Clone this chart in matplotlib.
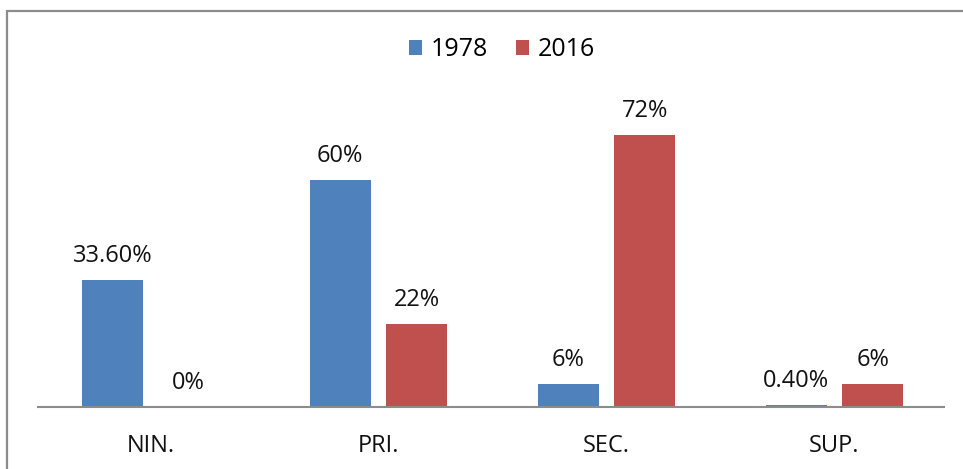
import matplotlib
matplotlib.use("Agg")
import matplotlib.pyplot as plt
from matplotlib.patches import Rectangle, Patch

categories = ["NIN.", "PRI.", "SEC.", "SUP."]
series_names = ["1978", "2016"]
values_1978 = [33.6, 60, 6, 0.4]
values_2016 = [0, 22, 72, 6]
labels_1978 = ["33.60%", "60%", "6%", "0.40%"]
labels_2016 = ["0%", "22%", "72%", "6%"]
colors = ["#4F81BD", "#C0504D"]

plt.rcParams['font.family'] = ['Open Sans', 'DejaVu Sans']
FS = 17

fig = plt.figure(figsize=(9.63, 4.69), dpi=100)
L, R = 36.5, 948.5
ax = fig.add_axes([L/963, 1-407/469, (R-L)/963, (407-104.6)/469])

bw = 0.269
off = 0.1675
x = list(range(len(categories)))
for vals, labs, c, sgn in [(values_1978, labels_1978, colors[0], -1), (values_2016, labels_2016, colors[1], 1)]:
    xs = [i + sgn*off for i in x]
    ax.bar(xs, vals, width=bw, color=c, zorder=2)
    for xi, v, lab in zip(xs, vals, labs):
        ax.annotate(lab, xy=(xi, v), xytext=(0, 13), textcoords='offset points',
                    ha='center', va='baseline', fontsize=FS, color='#111111', annotation_clip=False)

for i, cat in enumerate(categories):
    ax.annotate(cat, xy=(i, 0), xytext=(0, -32.4), textcoords='offset points',
                ha='center', va='baseline', fontsize=FS, color='#111111', annotation_clip=False)

ax.set_xlim(-0.5, 3.5)
ax.set_ylim(0, 80)
ax.set_xticks([])
ax.set_yticks([])
for s in ['top', 'right', 'left', 'bottom']:
    ax.spines[s].set_visible(False)
ax.plot([(37-L)/(R-L), (945-L)/(R-L)], [0, 0], transform=ax.transAxes,
        color='#8c8c8c', linewidth=1.5, zorder=3, clip_on=False, solid_capstyle='butt')
ax.patch.set_alpha(0)

handles = [Patch(facecolor=colors[0]), Patch(facecolor=colors[1])]
fig.legend(handles, series_names, loc='center', bbox_to_anchor=(502/963, 1-50/469),
           ncol=2, frameon=False, fontsize=18, handlelength=0.52, handleheight=0.52,
           handletextpad=0.35, columnspacing=1.1)

border = Rectangle((7/963, -0.1), 1.2, 1.1 - 11/469, transform=fig.transFigure,
                   fill=False, edgecolor='#8c8c8c', linewidth=1.6)
fig.patches.append(border)

fig.savefig("out.png", dpi=100)
